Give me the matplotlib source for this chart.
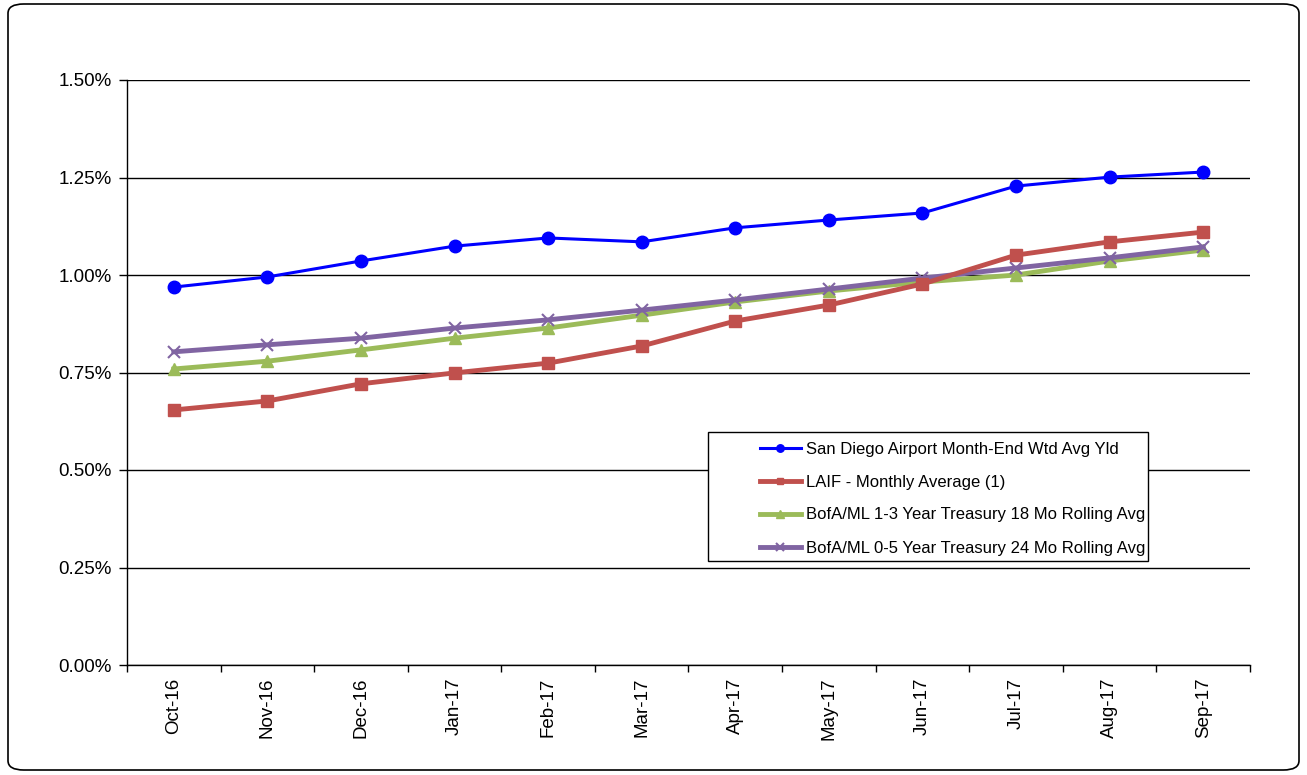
import numpy as np
import matplotlib.pyplot as plt
from matplotlib.patches import FancyBboxPatch, Rectangle
from matplotlib.ticker import FuncFormatter, FixedLocator

plt.rcParams['font.family'] = ['Liberation Sans', 'DejaVu Sans']

months = ["Oct-16", "Nov-16", "Dec-16", "Jan-17", "Feb-17", "Mar-17",
          "Apr-17", "May-17", "Jun-17", "Jul-17", "Aug-17", "Sep-17"]

# yields in percent
san_diego = [0.969, 0.995, 1.036, 1.074, 1.095, 1.085, 1.121, 1.141, 1.159, 1.228, 1.251, 1.264]
laif = [0.654, 0.677, 0.721, 0.749, 0.774, 0.818, 0.882, 0.923, 0.977, 1.051, 1.085, 1.110]
bofa_13 = [0.759, 0.779, 0.808, 0.838, 0.864, 0.897, 0.931, 0.959, 0.982, 1.000, 1.036, 1.064]
bofa_05 = [0.803, 0.821, 0.838, 0.864, 0.885, 0.910, 0.936, 0.964, 0.992, 1.018, 1.044, 1.072]

labels = ["San Diego Airport Month-End Wtd Avg Yld",
          "LAIF - Monthly Average (1)",
          "BofA/ML 1-3 Year Treasury 18 Mo Rolling Avg",
          "BofA/ML 0-5 Year Treasury 24 Mo Rolling Avg"]

W, H = 1307, 775
fig = plt.figure(figsize=(W / 100, H / 100), dpi=100)
ax = fig.add_axes([127 / W, 1 - 665 / H, 1123 / W, 585 / H])

# rounded outer border
border = FancyBboxPatch((8 / W, 5 / H), 1291 / W, 766 / H,
                        boxstyle="round,pad=0,rounding_size=0.012",
                        transform=fig.transFigure, fill=False,
                        edgecolor="black", linewidth=1.2)
fig.patches.append(border)

x = np.arange(len(months))
ax.plot(x, san_diego, color="#0000ff", lw=2.2, marker="o", ms=9, label=labels[0], zorder=5)
ax.plot(x, laif, color="#c0504d", lw=3.5, marker="s", ms=8, label=labels[1], zorder=4)
ax.plot(x, bofa_13, color="#9bbb59", lw=3.5, marker="^", ms=9, label=labels[2], zorder=3)
ax.plot(x, bofa_05, color="#8064a2", lw=3.5, marker="x", ms=9, mew=1.5, label=labels[3], zorder=3)

ax.set_xlim(-0.5, len(months) - 0.5)
ax.set_ylim(0, 1.5)
ax.set_yticks(np.arange(0, 1.51, 0.25))
ax.yaxis.set_major_formatter(FuncFormatter(lambda v, p: f"{v:.2f}%"))
ax.grid(axis="y", color="black", lw=1.0)
ax.set_axisbelow(True)

ax.set_xticks(x)
ax.set_xticklabels(months, rotation=90)
ax.xaxis.set_minor_locator(FixedLocator(np.arange(-0.5, len(months), 1)))
ax.tick_params(axis="x", which="major", length=0, pad=9, labelsize=13.5)
ax.tick_params(axis="x", which="minor", length=5, width=1)
ax.tick_params(axis="y", length=6, width=1, labelsize=13.5, pad=5)

for s in ["top", "right"]:
    ax.spines[s].set_visible(False)
ax.spines["left"].set_linewidth(1)
ax.spines["bottom"].set_linewidth(1)

# legend box drawn separately (wide left margin as in the original)
box = Rectangle((708 / W, 1 - 561 / H), 440 / W, 129 / H, transform=fig.transFigure,
                facecolor="white", edgecolor="black", lw=1.0, zorder=6)
fig.patches.append(box)
leg = fig.legend(loc="upper left", bbox_to_anchor=(752 / W, 1 - 434 / H),
                 frameon=False, fontsize=12, handlelength=2.5, borderpad=0.45,
                 labelspacing=1.08, handletextpad=0.3, borderaxespad=0, markerscale=0.6)
leg.set_zorder(7)

fig.savefig("out.png", dpi=100)
